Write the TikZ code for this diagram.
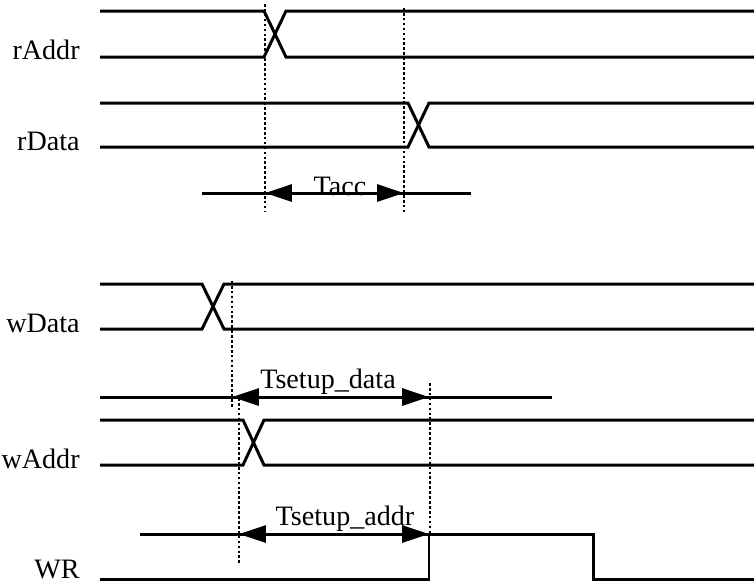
\documentclass[tikz,border=0pt]{standalone}
\usepackage{fontspec}
\setmainfont{Liberation Serif}
\usetikzlibrary{arrows.meta}

\begin{document}
\begin{tikzpicture}[x=0.02cm,y=-0.02cm,
  sig/.style={line width=1.7pt},
  marker/.style={line width=1.1pt,dash pattern=on 1.5pt off 1.3pt},
  span/.style={line width=1.7pt,{Triangle[length=0.54cm,width=0.34cm]}-{Triangle[length=0.54cm,width=0.34cm]}},
  lbl/.style={anchor=base east,inner sep=0pt,font=\fontsize{16}{19}\selectfont},
  tlbl/.style={anchor=base,inner sep=0pt,font=\fontsize{16}{19}\selectfont}]
 \useasboundingbox (0,0) rectangle (754,583);

 % signal names
 \node[lbl, name=raddr] at (80,59)  {rAddr};
 \node[lbl, name=rdata] at (80,150) {rData};
 \node[lbl, name=wdata] at (80,332) {wData};
 \node[lbl, name=waddr] at (80,468) {wAddr};
 \node[lbl, name=wr]    at (80,578) {WR};

 % read cycle
 \draw[sig] (100,11)  -- (264,11)  -- (286,57)  -- (754,57);
 \draw[sig] (100,57)  -- (264,57)  -- (286,11)  -- (754,11);
 \draw[sig] (100,103) -- (408,103) -- (429,147) -- (754,147);
 \draw[sig] (100,147) -- (408,147) -- (429,103) -- (754,103);

 \coordinate (acc-a) at (265,193);
 \coordinate (acc-b) at (404,193);
 \draw[marker] (265,4) -- (265,212);
 \draw[marker] (404,8) -- (404,212);
 \draw[sig]  (202,193) -- (471,193);
 \draw[span] (acc-a) -- (acc-b);
 \node[tlbl, name=tacc] at (340,195) {Tacc};

 % write cycle
 \draw[sig] (100,284) -- (202,284) -- (224,329) -- (754,329);
 \draw[sig] (100,329) -- (202,329) -- (224,284) -- (754,284);
 \draw[sig] (100,420) -- (243,420) -- (264,465) -- (754,465);
 \draw[sig] (100,465) -- (243,465) -- (264,420) -- (754,420);
 \draw[sig] (100,579) -- (429,579) -- (429,534) -- (593,534) -- (593,579) -- (754,579);

 \coordinate (dat-a) at (232,397);
 \coordinate (dat-b) at (429,397);
 \draw[marker] (232,281) -- (232,407);
 \draw[marker] (430,383) -- (430,534);
 \draw[sig]  (100,397) -- (552,397);
 \draw[span] (dat-a) -- (dat-b);
 \node[tlbl, name=tdata] at (328,388) {Tsetup\_data};

 \coordinate (adr-a) at (239,534);
 \coordinate (adr-b) at (429,534);
 \draw[marker] (239,398) -- (239,563);
 \draw[sig]  (140,534) -- (429,534);
 \draw[span] (adr-a) -- (adr-b);
 \node[tlbl, name=taddr] at (345,525) {Tsetup\_addr};
\end{tikzpicture}
\end{document}
